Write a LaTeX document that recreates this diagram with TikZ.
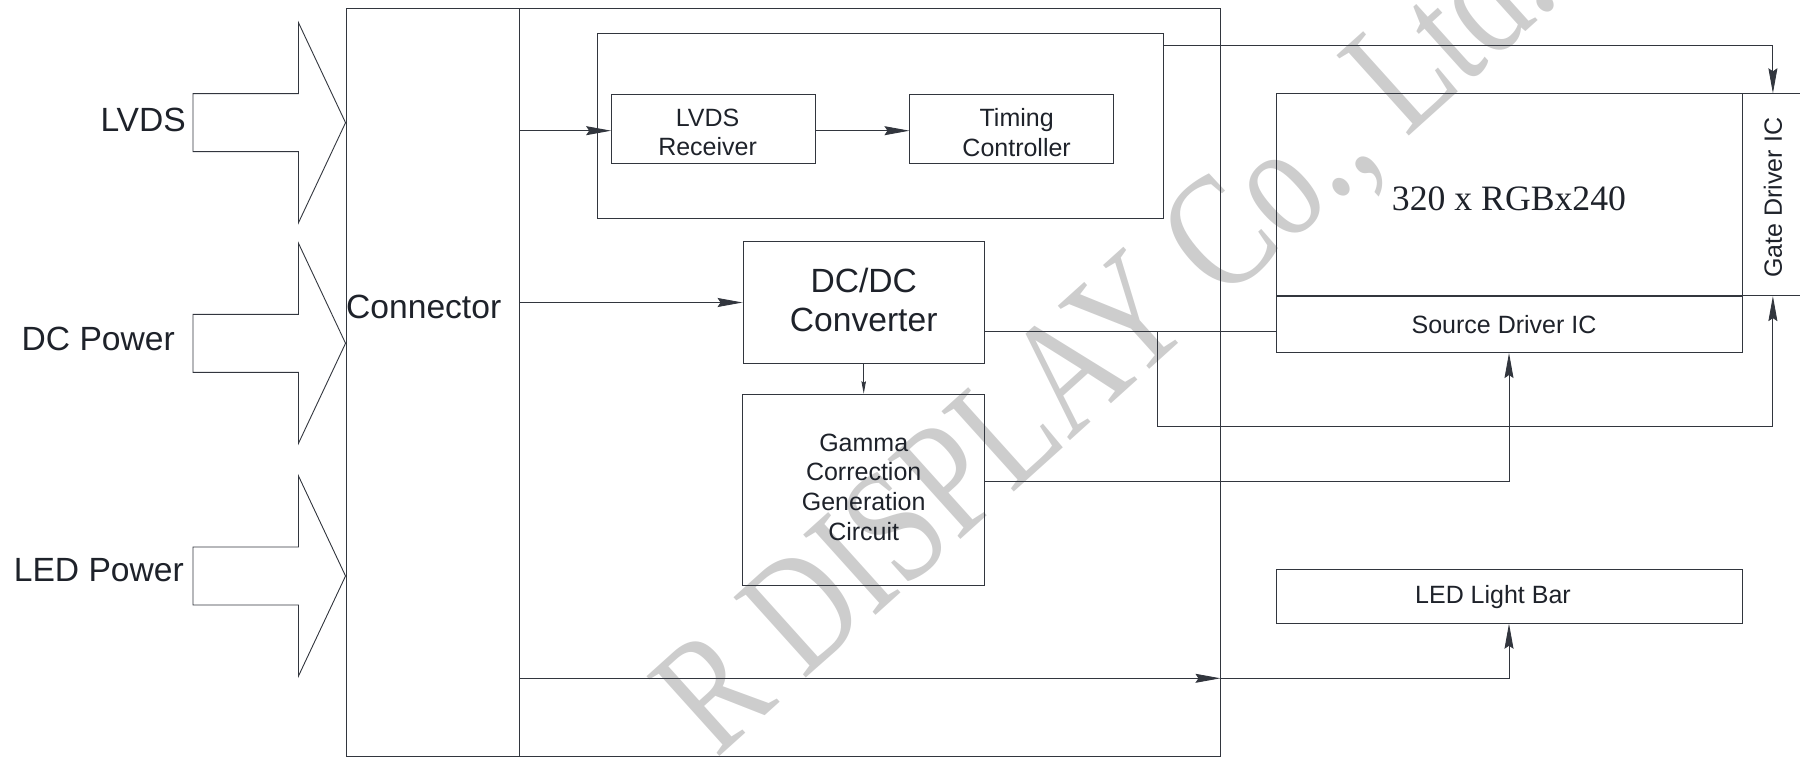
\documentclass[tikz,border=0pt]{standalone}
\usepackage{fontspec}
\setmainfont{Liberation Sans}
\newfontfamily\serifdisp{Liberation Serif}
\newfontfamily\markfont[FakeStretch=0.78]{Liberation Serif}
\usetikzlibrary{arrows.meta,calc,positioning}
\definecolor{lcdline}{RGB}{50,54,62}
\definecolor{lcdtext}{RGB}{30,34,42}
\definecolor{lcdmark}{RGB}{205,205,205}

\tikzset{
  blk/.style={draw=lcdline,line width=0.9pt,inner sep=0pt},
  bigtxt/.style={inner sep=0pt,text=lcdtext,align=center,font=\fontsize{33.6}{39}\selectfont},
  smalltxt/.style={inner sep=0pt,text=lcdtext,align=center,font=\fontsize{25}{29.7}\selectfont},
  wire/.style={draw=lcdline,line width=0.9pt},
  sig/.style={wire,-{Stealth[length=25pt,width=9pt,inset=3pt]}},
  sigsmall/.style={wire,-{Stealth[length=12.5pt,width=4.5pt,inset=1.5pt]}}
}

\begin{document}
\begin{tikzpicture}[x=1pt,y=-1pt]
    \clip (0,0) rectangle (1800,757);

    % Watermark
    \node[anchor=base west,rotate=42,inner sep=0pt,text=lcdmark,
      font=\markfont\fontsize{165}{165}\selectfont] (mark) at (716,760) {R DISPLAY Co., Ltd.};

    % Connector and driver board
    \node[blk,minimum width=173pt,minimum height=748pt] (conn) at (432.5,382) {};
    \node[blk,minimum width=701pt,minimum height=748pt] (main) at (869.5,382) {};
    \node[bigtxt,anchor=west] (connlbl) at (346,307) {Connector};

    % Inputs
    \foreach \yc/\yl/\txt/\tx [count=\i] in {122.7/120/LVDS/186, 343.3/338.7/DC Power/175, 576/570/LED Power/184}{
        \draw[wire] (193,\yc-29) -- (298.5,\yc-29) -- (298.5,\yc-100) -- (conn.west |- 0,\yc)
            -- (298.5,\yc+100) -- (298.5,\yc+29) -- (193,\yc+29) -- cycle;
        \node[bigtxt,anchor=east] (in\i) at (\tx,\yl) {\txt};
    }

    % LVDS receiver and timing controller
    \node[blk,minimum width=566pt,minimum height=185pt] (grp) at (880,125.5) {};
    \node[blk,minimum width=204pt,minimum height=68.6pt] (rx) at (713.6,129) {};
    \node[blk,minimum width=203.5pt,minimum height=68.6pt,right=93.4pt of rx] (tcon) {};
    \node[smalltxt] (rxlbl) at ($(rx.center)+(-6,3.5)$) {LVDS\\Receiver};
    \node[smalltxt] (tconlbl) at ($(tcon.center)+(5,3.5)$) {Timing\\Controller};

    % Power blocks
    \node[blk,minimum width=241.4pt,minimum height=121.6pt] (dcdc) at (863.7,302.5) {};
    \node[blk,minimum width=242pt,minimum height=191.7pt,below=30pt of dcdc] (gamma) {};
    \node[bigtxt] (dcdclbl) at ($(dcdc.center)+(0,-3)$) {DC/DC\\Converter};
    \node[smalltxt] (gammalbl) at ($(gamma.center)+(0,-3)$) {Gamma\\Correction\\Generation\\Circuit};

    % Panel
    \node[blk,minimum width=466pt,minimum height=202pt] (panel) at (1509,194.7) {};
    \node[blk,minimum width=466pt,minimum height=56pt,below=0pt of panel] (src) {};
    \node[blk,minimum width=60pt,minimum height=202pt,right=0pt of panel] (gate) {};
    \node[blk,minimum width=466pt,minimum height=54pt] (led) at (1509,596.3) {};
    \node[inner sep=0pt,text=lcdtext,font=\serifdisp\fontsize{35.7}{40}\selectfont] (res) at ($(panel.center)+(0,4)$) {320 x RGBx240};
    \node[smalltxt,rotate=90] (gatelbl) at ($(gate.center)+(0,3)$) {Gate Driver IC};
    \node[smalltxt] (srclbl) at ($(src.center)+(-5,0)$) {Source Driver IC};
    \node[smalltxt] (ledlbl) at ($(led.center)+(-16,0.7)$) {LED Light Bar};

    % Signals
    \draw[sig] (conn.east |- 0,130.7) -- (rx.west |- 0,130.7);
    \draw[sig] (rx.east |- 0,130.7) -- (tcon.west |- 0,130.7);
    \draw[sig] (conn.east |- dcdc.west) -- (dcdc.west);
    \draw[sigsmall] (dcdc) -- (gamma);
    \coordinate (gtap) at (grp.east |- 0,45);
    \draw[sig] (gtap) -| (gate.north);
    \coordinate (dcout) at (dcdc.east |- 0,331);
    \draw[wire] (dcout) -- (src.west |- dcout);
    \coordinate (dcbr) at (1157.5,331);
    \coordinate (gcorner) at (gate.south |- 0,426);
    \draw[sig] (dcbr) |- (gcorner) -- (gate.south);
    \draw[sig] (gamma.east |- 0,481.7) -| (src.south);
    \coordinate (ledtap) at (conn.east |- 0,678.3);
    \coordinate (ledcross) at (main.east |- ledtap);
    \draw[sig] (ledtap) -- (ledcross);
    \draw[sig] (ledcross) -| (led.south);
\end{tikzpicture}
\end{document}
